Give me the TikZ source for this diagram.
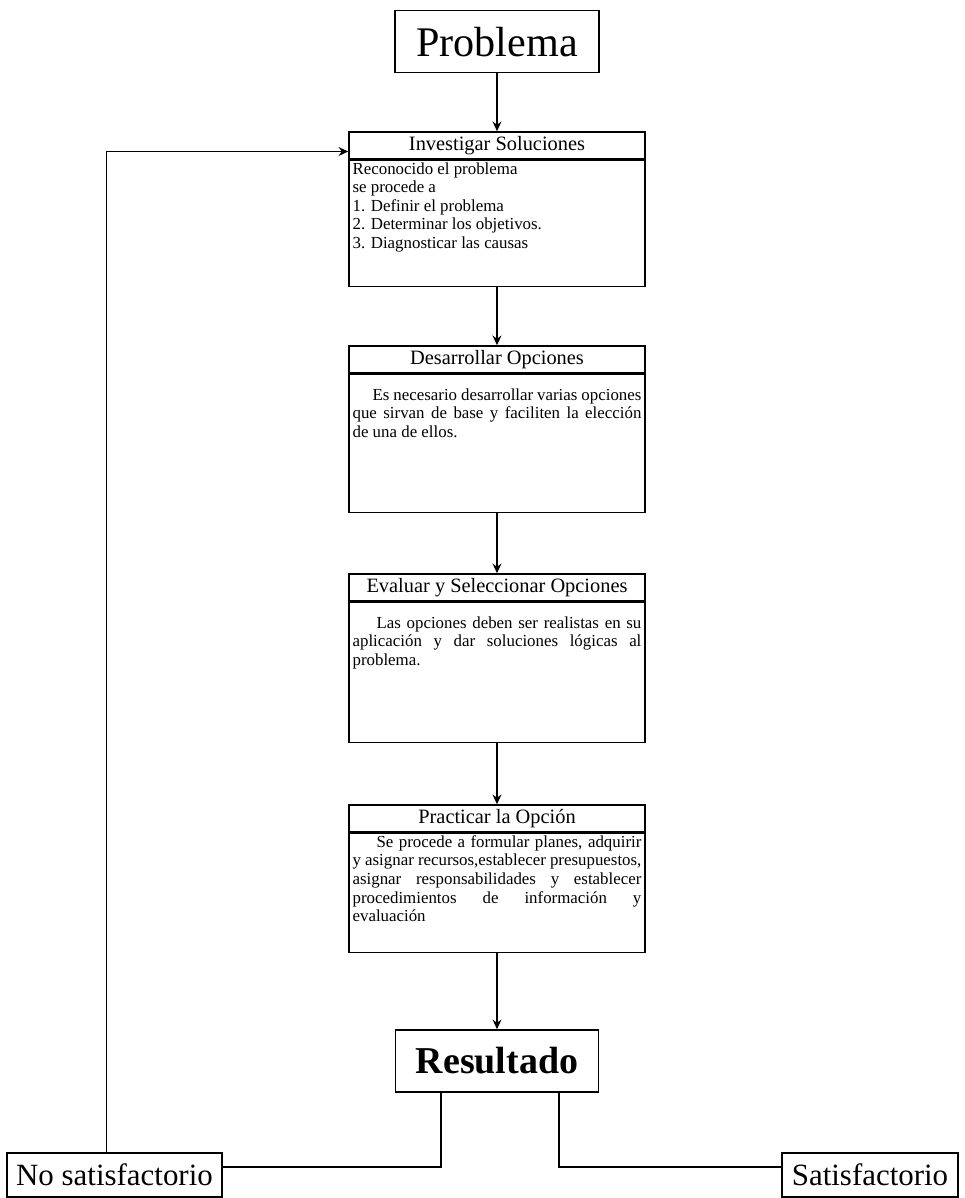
\documentclass[tikz,border=0pt]{standalone}
\usepackage{fontspec}
\setmainfont{Liberation Serif}
\usetikzlibrary{positioning,arrows.meta}

\newlength{\bodyw}
\setlength{\bodyw}{7.22cm}
\newcommand{\jline}[1]{\makebox[\bodyw][s]{#1}\\}
\newcommand{\bodytext}[2]{\parbox[t][#1][t]{\bodyw}{\fontsize{12}{13.2}\selectfont #2}}

\tikzset{
  bigbox/.style={draw,line width=1.1pt,inner sep=0pt,minimum height=1.55cm,font=\fontsize{30}{34}\selectfont},
  endbox/.style={draw,line width=1.1pt,inner sep=0pt,minimum height=1.1cm,font=\fontsize{22}{26}\selectfont},
  titlebox/.style={draw,line width=1.1pt,inner sep=0pt,minimum width=7.4cm,minimum height=0.675cm,font=\fontsize{14.5}{16}\selectfont},
  bodybox/.style={draw,line width=1.1pt,inner xsep=0.09cm,inner ysep=0.05cm},
  flow/.style={line width=1.1pt,-{Stealth[length=2.4mm,width=2.2mm]}},
  link/.style={line width=1.1pt}
}

\begin{document}
\begin{tikzpicture}
    \useasboundingbox (0,0) rectangle (24.125,-29.95);
    %% Start
    \node[bigbox,minimum width=5.1cm] (prob) at (12.425,-1.04) {Problema};
    %% Steps
    \node[titlebox] (invT) at (12.425,-3.6375) {Investigar Soluciones};
    \node[bodybox,below=0pt of invT] (invB) {\bodytext{3.05cm}{Reconocido el problema\\
        se procede a\\
        1. Definir el problema\\
        2. Determinar los objetivos.\\
        3. Diagnosticar las causas}};
    \node[titlebox] (desT) at (12.425,-8.9875) {Desarrollar Opciones};
    \node[bodybox,below=0pt of desT] (desB) {\bodytext{3.35cm}{\vspace*{0.3cm}%
        \jline{\hspace*{0.5cm}Es necesario desarrollar varias opciones}%
        \jline{que sirvan de base y faciliten la elección}%
        de una de ellos.}};
    \node[titlebox] (evaT) at (12.425,-14.6875) {Evaluar y Seleccionar Opciones};
    \node[bodybox,below=0pt of evaT] (evaB) {\bodytext{3.4cm}{\vspace*{0.3cm}%
        \jline{\hspace*{0.6cm}Las opciones deben ser realistas en su}%
        \jline{aplicación y dar soluciones lógicas al}%
        problema.}};
    \node[titlebox] (praT) at (12.425,-20.4625) {Practicar la Opción};
    \node[bodybox,below=0pt of praT] (praB) {\bodytext{2.875cm}{%
        \jline{\hspace*{0.6cm}Se procede a formular planes, adquirir}%
        \jline{y asignar recursos,establecer presupuestos,}%
        \jline{asignar responsabilidades y establecer}%
        \jline{procedimientos de información y}%
        evaluación}};
    %% Outcome
    \node[bigbox,minimum width=5.075cm,font=\fontsize{27}{32}\selectfont\bfseries] (res) at (12.425,-26.525) {Resultado};
    \node[endbox,minimum width=5.375cm] (nosat) at (2.8625,-29.375) {No satisfactorio};
    \node[endbox,minimum width=4.4cm] (sat) at (21.75,-29.375) {Satisfactorio};
    %% Arrows
    \draw[flow] (prob) -- (invT);
    \draw[flow] (invB) -- (desT);
    \draw[flow] (desB) -- (evaT);
    \draw[flow] (evaB) -- (praT);
    \draw[flow] (praB) -- (res);
    \draw[link] ([xshift=-1.4cm]res.south) |- ([yshift=0.2cm]nosat.east);
    \draw[link] ([xshift=1.55cm]res.south) |- ([yshift=0.2cm]sat.west);
    \draw[flow] ([xshift=-0.2cm]nosat.north) |- ([yshift=-0.15cm]invT.west);
\end{tikzpicture}
\end{document}
